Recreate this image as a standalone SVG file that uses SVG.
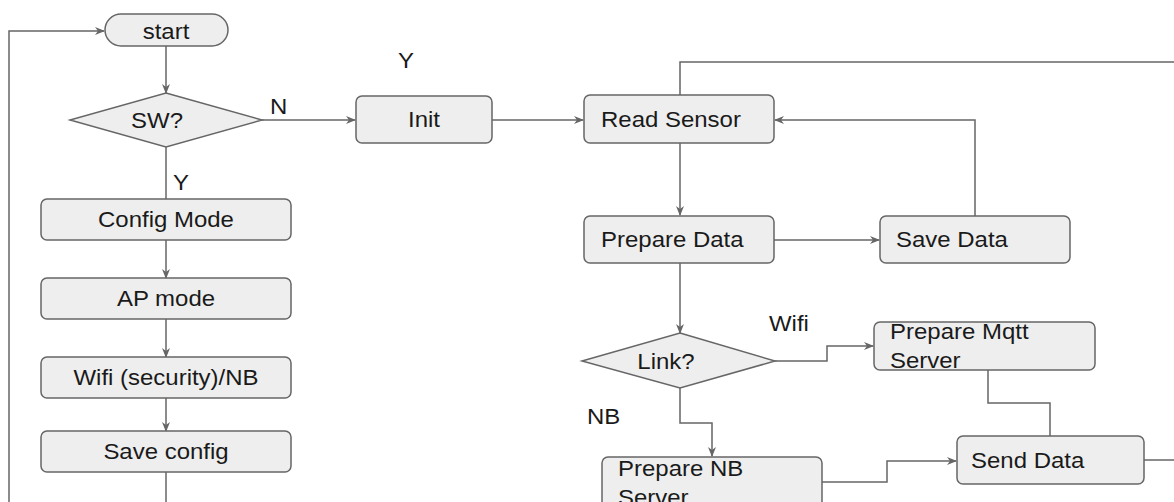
<svg xmlns="http://www.w3.org/2000/svg" width="1174" height="502" viewBox="0 0 1174 502">
<defs>
<style>
.box{fill:#eeeeee;stroke:#666666;stroke-width:1.5}
.t{font-family:"Liberation Sans",Arial,sans-serif;font-size:22px;fill:#1a1a1a}
.c{text-anchor:middle}
.ln{fill:none;stroke:#666666;stroke-width:1.5}
</style>
<marker id="ah" viewBox="0 0 10 10" refX="9" refY="5" markerWidth="10" markerHeight="10" markerUnits="userSpaceOnUse" orient="auto">
<path d="M0,1 L10,5 L0,9 L3,5 Z" fill="#666666"/>
</marker>
</defs>
<rect width="1174" height="502" fill="#ffffff"/>
<g id="connectors">
<path class="ln" d="M166,502 L166,472"/>
<path class="ln" d="M9,502 L9,31 L104,31" marker-end="url(#ah)"/>
<path class="ln" d="M166,46 L166,93" marker-end="url(#ah)"/>
<path class="ln" d="M262,120 L355,120" marker-end="url(#ah)"/>
<path class="ln" d="M166,147 L166,199"/>
<path class="ln" d="M166,240 L166,278" marker-end="url(#ah)"/>
<path class="ln" d="M166,319 L166,357" marker-end="url(#ah)"/>
<path class="ln" d="M166,398 L166,431" marker-end="url(#ah)"/>
<path class="ln" d="M492,120 L583,120" marker-end="url(#ah)"/>
<path class="ln" d="M680,95 L680,62 L1174,62"/>
<path class="ln" d="M680,143 L680,215" marker-end="url(#ah)"/>
<path class="ln" d="M774,240 L879,240" marker-end="url(#ah)"/>
<path class="ln" d="M975,216 L975,120 L775,120" marker-end="url(#ah)"/>
<path class="ln" d="M680,263 L680,333" marker-end="url(#ah)"/>
<path class="ln" d="M775,361 L827,361 L827,346 L873,346" marker-end="url(#ah)"/>
<path class="ln" d="M988,370 L988,403 L1050,403 L1050,436"/>
<path class="ln" d="M1144,460 L1174,460"/>
<path class="ln" d="M680,388 L680,423 L712,423 L712,456" marker-end="url(#ah)"/>
<path class="ln" d="M822,482 L887,482 L887,461 L956,461" marker-end="url(#ah)"/>
<text class="t" transform="translate(270,114) scale(1.09,1)">N</text>
<text class="t" transform="translate(173,190) scale(1.09,1)">Y</text>
<text class="t" transform="translate(398,68) scale(1.09,1)">Y</text>
<text class="t" transform="translate(769,331) scale(1.09,1)">Wifi</text>
<text class="t" transform="translate(587,424) scale(1.09,1)">NB</text>
</g>
<g id="start">
<rect class="box" x="105" y="14" width="123" height="32" rx="16"/>
<text class="t c" transform="translate(166,39) scale(1.09,1)">start</text>
</g>
<g id="sw">
<polygon class="box" points="166,93 262,120 166,147 70,120"/>
<text class="t c" transform="translate(157,128) scale(1.09,1)">SW?</text>
</g>
<g id="config-mode">
<rect class="box" x="41" y="199" width="250" height="41" rx="6"/>
<text class="t c" transform="translate(166,227) scale(1.09,1)">Config Mode</text>
</g>
<g id="ap-mode">
<rect class="box" x="41" y="278" width="250" height="41" rx="6"/>
<text class="t c" transform="translate(166,306) scale(1.09,1)">AP mode</text>
</g>
<g id="wifi-nb">
<rect class="box" x="41" y="357" width="250" height="41" rx="6"/>
<text class="t c" transform="translate(166,385) scale(1.09,1)">Wifi (security)/NB</text>
</g>
<g id="save-config">
<rect class="box" x="41" y="431" width="250" height="41" rx="6"/>
<text class="t c" transform="translate(166,459) scale(1.09,1)">Save config</text>
</g>
<g id="init">
<rect class="box" x="356" y="96" width="136" height="47" rx="6"/>
<text class="t c" transform="translate(424,127) scale(1.09,1)">Init</text>
</g>
<g id="read-sensor">
<rect class="box" x="584" y="95" width="190" height="48" rx="6"/>
<text class="t" transform="translate(601,127) scale(1.09,1)">Read Sensor</text>
</g>
<g id="prepare-data">
<rect class="box" x="584" y="216" width="190" height="47" rx="6"/>
<text class="t" transform="translate(601,247) scale(1.09,1)">Prepare Data</text>
</g>
<g id="save-data">
<rect class="box" x="880" y="216" width="190" height="47" rx="6"/>
<text class="t" transform="translate(896,247) scale(1.09,1)">Save Data</text>
</g>
<g id="link">
<polygon class="box" points="680,333 775,361 680,388 582,361"/>
<text class="t c" transform="translate(666,369) scale(1.09,1)">Link?</text>
</g>
<g id="prepare-mqtt">
<rect class="box" x="874" y="322" width="221" height="48" rx="6"/>
<text class="t" transform="translate(890,339) scale(1.09,1)">Prepare Mqtt</text>
<text class="t" transform="translate(890,368) scale(1.09,1)">Server</text>
</g>
<g id="send-data">
<rect class="box" x="957" y="436" width="187" height="48" rx="6"/>
<text class="t" transform="translate(971,468) scale(1.09,1)">Send Data</text>
</g>
<g id="prepare-nb">
<rect class="box" x="602" y="457" width="220" height="60" rx="6"/>
<text class="t" transform="translate(618,476) scale(1.09,1)">Prepare NB</text>
<text class="t" transform="translate(618,505) scale(1.09,1)">Server</text>
</g>
</svg>
